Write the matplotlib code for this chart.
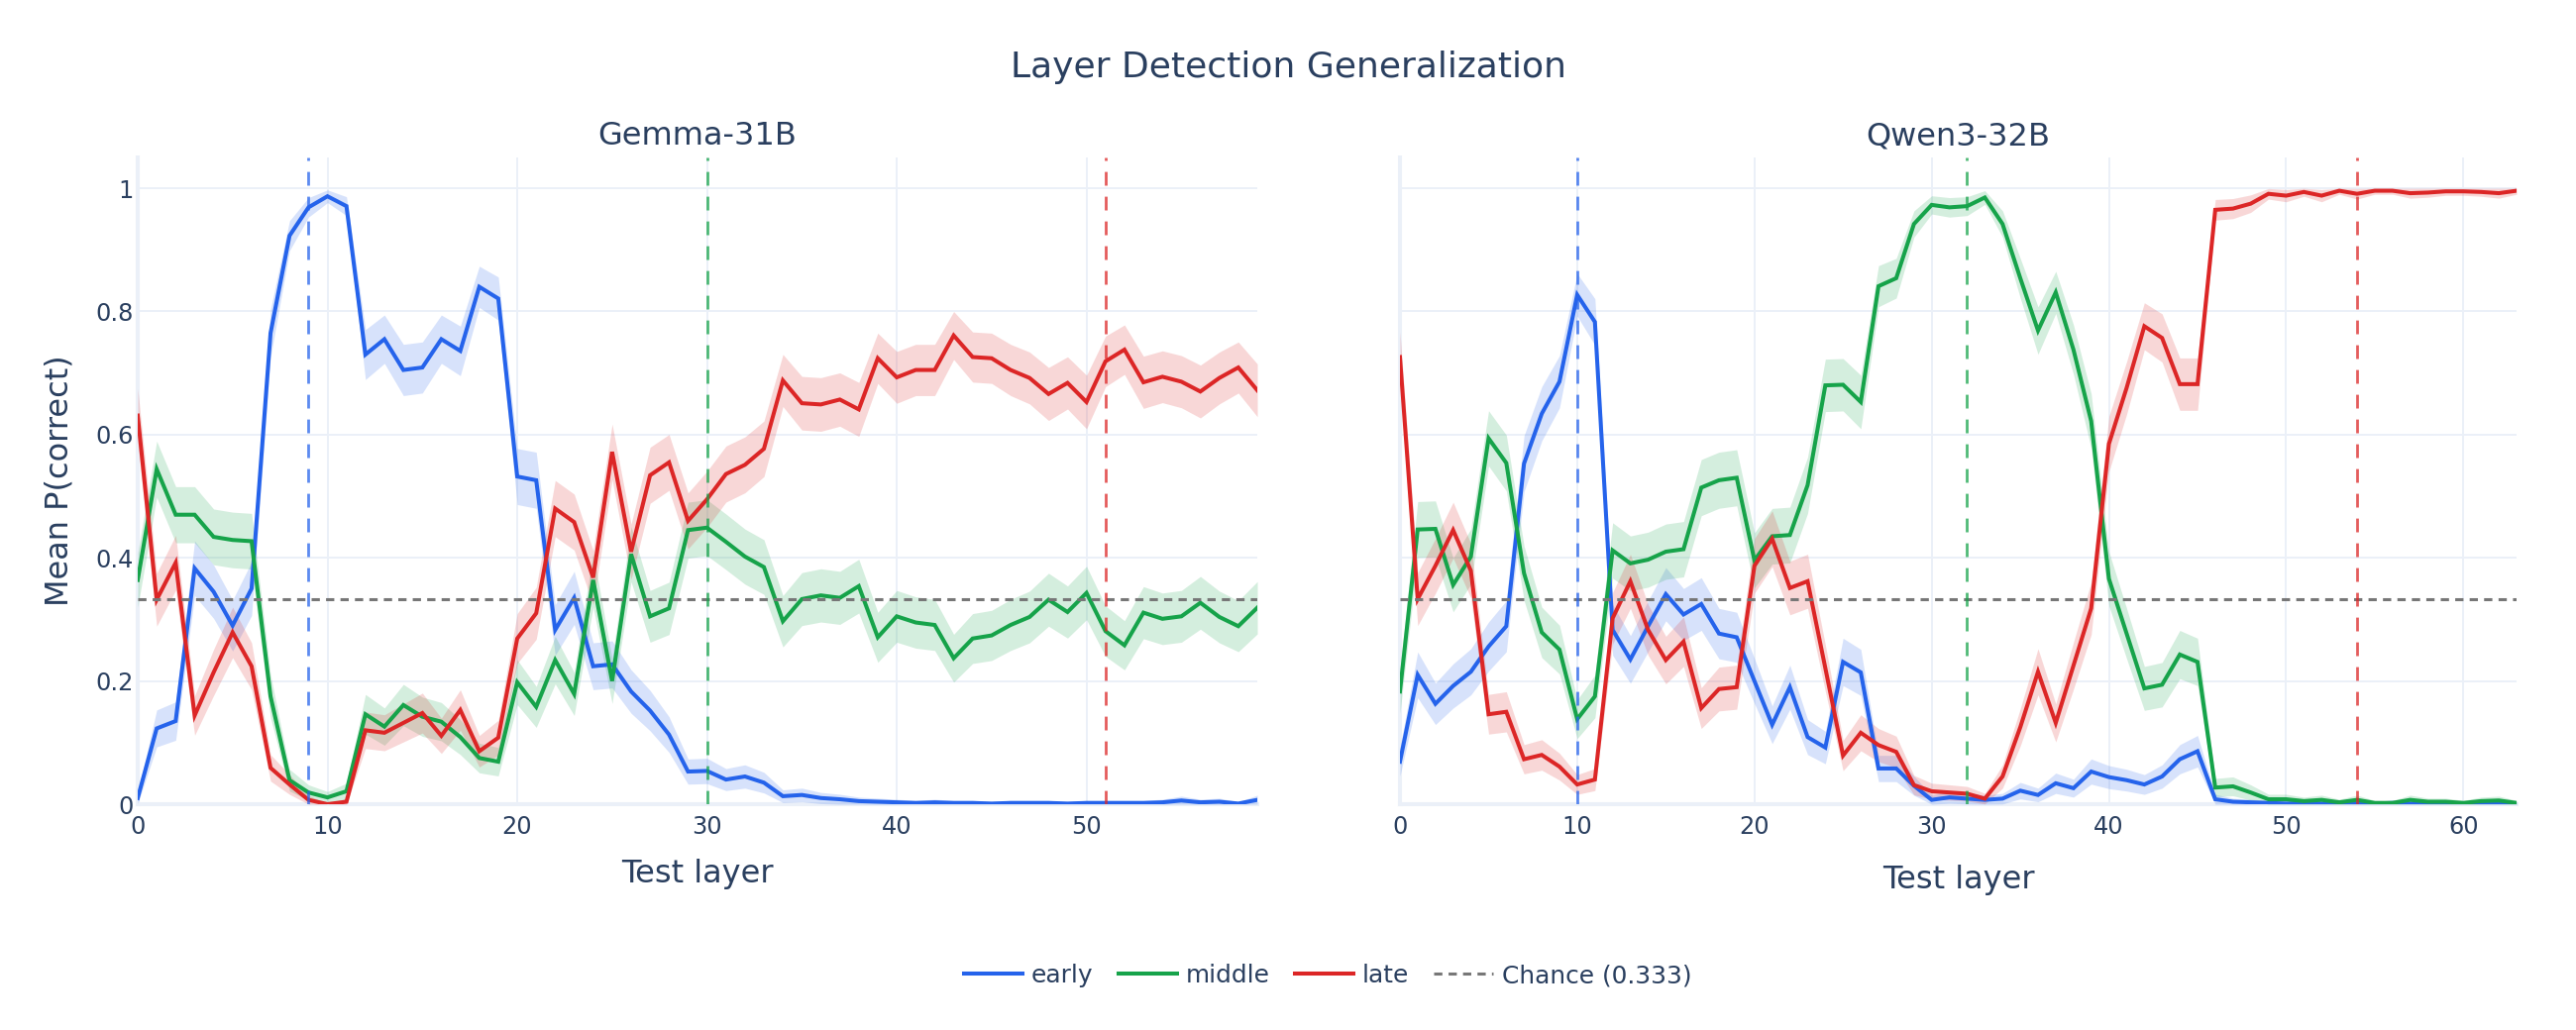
import numpy as np
import matplotlib
matplotlib.use("Agg")
import matplotlib.pyplot as plt
from matplotlib.lines import Line2D

# ---- data ----
gemma_layers = np.arange(60)
gemma_early = [0.010, 0.123, 0.135, 0.383, 0.345, 0.290, 0.350, 0.765, 0.923, 0.969,
               0.987, 0.971, 0.730, 0.755, 0.705, 0.709, 0.755, 0.736, 0.840, 0.821,
               0.532, 0.526, 0.283, 0.335, 0.224, 0.227, 0.183, 0.152, 0.113, 0.053,
               0.054, 0.040, 0.045, 0.035, 0.013, 0.015, 0.010, 0.008, 0.005, 0.004,
               0.003, 0.002, 0.003, 0.002, 0.002, 0.001, 0.002, 0.002, 0.002, 0.001,
               0.002, 0.002, 0.002, 0.002, 0.003, 0.006, 0.003, 0.004, 0.001, 0.007]
gemma_middle = [0.364, 0.544, 0.470, 0.470, 0.434, 0.429, 0.427, 0.175, 0.039, 0.019,
                0.011, 0.021, 0.146, 0.126, 0.161, 0.142, 0.134, 0.109, 0.075, 0.069,
                0.198, 0.158, 0.234, 0.179, 0.364, 0.200, 0.406, 0.305, 0.318, 0.445,
                0.449, 0.426, 0.402, 0.385, 0.297, 0.333, 0.339, 0.335, 0.354, 0.271,
                0.305, 0.295, 0.291, 0.237, 0.269, 0.274, 0.291, 0.304, 0.332, 0.312,
                0.343, 0.281, 0.258, 0.311, 0.301, 0.305, 0.327, 0.304, 0.289, 0.319]
gemma_late = [0.631, 0.332, 0.392, 0.144, 0.214, 0.279, 0.224, 0.059, 0.032, 0.007,
              0.000, 0.004, 0.120, 0.116, 0.132, 0.148, 0.111, 0.153, 0.086, 0.108,
              0.269, 0.310, 0.480, 0.458, 0.368, 0.572, 0.410, 0.534, 0.555, 0.460,
              0.495, 0.536, 0.551, 0.577, 0.688, 0.651, 0.649, 0.657, 0.641, 0.724,
              0.693, 0.705, 0.705, 0.761, 0.726, 0.724, 0.705, 0.692, 0.666, 0.684,
              0.653, 0.719, 0.738, 0.685, 0.694, 0.686, 0.670, 0.692, 0.709, 0.672]

qwen_layers = np.arange(64)
qwen_early = [0.069, 0.210, 0.163, 0.192, 0.215, 0.256, 0.289, 0.553, 0.634, 0.686,
              0.827, 0.783, 0.283, 0.235, 0.289, 0.341, 0.308, 0.325, 0.277, 0.271,
              0.200, 0.129, 0.190, 0.109, 0.092, 0.231, 0.214, 0.058, 0.058, 0.030,
              0.007, 0.011, 0.009, 0.007, 0.009, 0.022, 0.015, 0.034, 0.026, 0.053,
              0.044, 0.039, 0.032, 0.045, 0.073, 0.086, 0.008, 0.004, 0.003, 0.002,
              0.001, 0.002, 0.001, 0.002, 0.001, 0.001, 0.002, 0.001, 0.001, 0.001,
              0.001, 0.002, 0.001, 0.001]
qwen_middle = [0.183, 0.446, 0.447, 0.356, 0.402, 0.594, 0.554, 0.375, 0.279, 0.251,
               0.138, 0.175, 0.412, 0.391, 0.397, 0.410, 0.414, 0.514, 0.526, 0.530,
               0.396, 0.435, 0.437, 0.518, 0.680, 0.681, 0.653, 0.841, 0.854, 0.942,
               0.973, 0.969, 0.971, 0.985, 0.942, 0.854, 0.769, 0.831, 0.738, 0.622,
               0.366, 0.277, 0.188, 0.194, 0.243, 0.231, 0.027, 0.029, 0.019, 0.008,
               0.008, 0.005, 0.007, 0.003, 0.007, 0.002, 0.002, 0.007, 0.004, 0.004,
               0.002, 0.005, 0.006, 0.002]
qwen_late = [0.726, 0.333, 0.387, 0.445, 0.379, 0.146, 0.150, 0.073, 0.080, 0.061,
             0.032, 0.040, 0.302, 0.362, 0.283, 0.234, 0.264, 0.156, 0.187, 0.190,
             0.387, 0.431, 0.351, 0.362, 0.221, 0.079, 0.116, 0.096, 0.085, 0.031,
             0.021, 0.019, 0.017, 0.009, 0.045, 0.125, 0.215, 0.132, 0.225, 0.318,
             0.585, 0.676, 0.776, 0.757, 0.682, 0.682, 0.965, 0.967, 0.975, 0.991,
             0.988, 0.994, 0.988, 0.996, 0.991, 0.996, 0.996, 0.992, 0.993, 0.995,
             0.995, 0.994, 0.992, 0.996]

# training layer for each probe (dashed vertical lines)
gemma_train_layers = [9, 30, 51]
qwen_train_layers = [10, 32, 54]

n_samples = 120  # approx. sample count behind the shaded standard-error band
chance = 1 / 3

group_names = ["early", "middle", "late"]
colors = {"early": "#2563EB", "middle": "#16A34A", "late": "#DC2626"}
text_color = "#2a3f5f"
grid_color = "#EBF0F8"

plt.rcParams["font.family"] = ["DejaVu Sans"]
plt.rcParams["lines.scale_dashes"] = False

W, H = 2600, 1040
fig = plt.figure(figsize=(W / 100, H / 100), dpi=100)

# axes boxes in pixels: left, right, top, bottom
ax_left = fig.add_axes([139 / W, 1 - 812 / H, (1269 - 139) / W, (812 - 159) / H])
ax_right = fig.add_axes([1413 / W, 1 - 812 / H, (2540 - 1413) / W, (812 - 159) / H])

panels = [
    (ax_left, "Gemma-31B", gemma_layers, [gemma_early, gemma_middle, gemma_late], gemma_train_layers, 882),
    (ax_right, "Qwen3-32B", qwen_layers, [qwen_early, qwen_middle, qwen_late], qwen_train_layers, 888),
]

for ax, title, layers, series, train_layers, xlabel_y in panels:
    ax.set_facecolor("white")
    for s in ax.spines.values():
        s.set_visible(False)

    # grid
    ax.set_xlim(0, layers[-1])
    ax.set_ylim(0, 1.05)
    ax.set_yticks([0, 0.2, 0.4, 0.6, 0.8, 1.0])
    ax.set_xticks(np.arange(0, layers[-1] + 1, 10))
    for yv in [0.2, 0.4, 0.6, 0.8, 1.0]:
        ax.axhline(yv, color=grid_color, lw=1.44, zorder=0)
    for xv in np.arange(10, layers[-1] + 1, 10):
        ax.axvline(xv, color=grid_color, lw=1.44, zorder=0)
    ax.axhline(0, color=grid_color, lw=2.9, zorder=0, clip_on=False)
    ax.axvline(0, color=grid_color, lw=2.9, zorder=0, clip_on=False)

    for name, vals in zip(group_names, series):
        p = np.asarray(vals)
        se = np.sqrt(p * (1 - p) / n_samples)
        ax.fill_between(layers, np.clip(p - se, 0, 1), np.clip(p + se, 0, 1),
                        color=colors[name], alpha=0.18, lw=0, zorder=1)
    for name, vals in zip(group_names, series):
        ax.plot(layers, vals, color=colors[name], lw=2.9, zorder=2,
                solid_joinstyle="miter")

    # chance line and training layers
    ax.axhline(chance, color="#777777", lw=2.2, dashes=(6, 4.5), zorder=3)
    for name, tl in zip(group_names, train_layers):
        ax.axvline(tl, color=colors[name], lw=2.0, alpha=0.75, dashes=(10, 8), zorder=3)

    ax.tick_params(length=0, labelsize=17.3, labelcolor=text_color, pad=8)
    ax.tick_params(axis="y", pad=3)
    ax.text(0.5, 1 + 21 / 653, title, transform=ax.transAxes, ha="center", va="center",
            fontsize=23, color=text_color)
    ax.set_xlabel("Test layer", fontsize=23, color=text_color)
    ax.xaxis.set_label_coords(0.5, -(xlabel_y - 812) / 653)
    ax.xaxis.label.set_va("center")

ax_left.set_yticklabels(["0", "0.2", "0.4", "0.6", "0.8", "1"])
ax_right.set_yticklabels([])
ax_left.set_ylabel("Mean P(correct)", fontsize=23, color=text_color)
ax_left.yaxis.set_label_coords(-(139 - 60) / 1130, 0.5)
ax_left.yaxis.label.set_va("center")

fig.text(0.5, 1 - 68 / H, "Layer Detection Generalization", ha="center", va="center",
         fontsize=26, color=text_color)

handles = [Line2D([], [], color=colors[n], lw=2.9) for n in group_names]
handles.append(Line2D([], [], color="#777777", lw=2.2, dashes=(6, 4.5)))
labels = group_names + ["Chance (0.333)"]
fig.legend(handles, labels, loc="center", bbox_to_anchor=(1340 / W, 1 - 985 / H),
           ncol=4, frameon=False, fontsize=17.9, labelcolor=text_color,
           handlelength=2.4, handletextpad=0.35, columnspacing=1.0)

fig.savefig("out.png", dpi=100, facecolor="white")
